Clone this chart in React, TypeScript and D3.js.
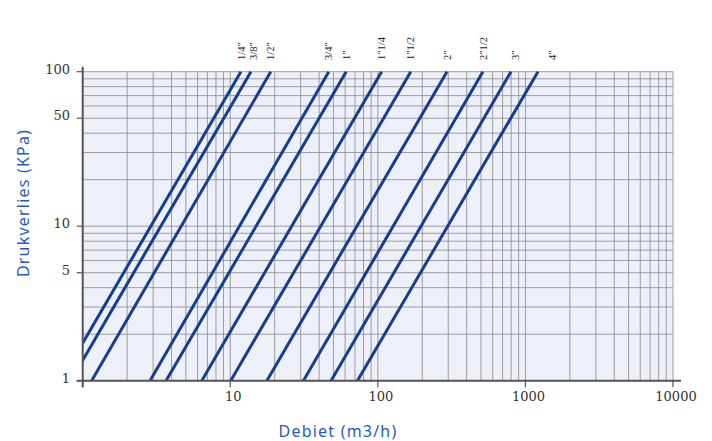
import React, { useEffect, useRef } from "react";
import * as d3 from "d3";

// pipe sizes and the flow (m3/h) each line reaches at 1 kPa and at 100 kPa
const sizes = ["1/4\"", "3/8\"", "1/2\"", "3/4\"", "1\"", "1\"1/4", "1\"1/2", "2\"", "2\"1/2", "3\"", "4\""];
const flowAt1 = [0.71, 0.83, 1.15, 2.86, 3.67, 6.41, 10.07, 17.7, 31.3, 48.2, 72.7];
const flowAt100 = [11.8, 13.8, 18.8, 46.5, 61, 106, 167, 294, 515, 798, 1216];

const xTickLabels = [10, 100, 1000, 10000];
const yTickLabels = [1, 5, 10, 50, 100];

const App = () => {
  const ref = useRef<SVGSVGElement | null>(null);

  useEffect(() => {
    const svg = d3.select(ref.current);
    svg.selectAll("*").remove();

    const left = 82.7,
      right = 673,
      top = 71.7,
      bottom = 380.7;

    const x = d3.scaleLog().domain([1, 10000]).range([left, right]);
    const y = d3.scaleLog().domain([1, 100]).range([bottom, top]);

    const gridColor = "#939393";
    const lineColor = "#143f8f";
    const axisColor = "#555";
    const titleColor = "#1f5cc0";

    // plot background
    svg
      .append("rect")
      .attr("x", left)
      .attr("y", top)
      .attr("width", right - left)
      .attr("height", bottom - top)
      .attr("fill", "#edf0f9");

    // grid
    const grid = svg.append("g").attr("stroke", gridColor).attr("stroke-width", 0.9);
    grid
      .selectAll("line.v")
      .data(x.ticks())
      .enter()
      .append("line")
      .attr("class", "v")
      .attr("x1", (d) => x(d))
      .attr("x2", (d) => x(d))
      .attr("y1", top)
      .attr("y2", bottom);
    grid
      .selectAll("line.h")
      .data(y.ticks())
      .enter()
      .append("line")
      .attr("class", "h")
      .attr("x1", left)
      .attr("x2", right)
      .attr("y1", (d) => y(d))
      .attr("y2", (d) => y(d));

    // clip for the pressure lines
    svg
      .append("clipPath")
      .attr("id", "plot-clip")
      .append("rect")
      .attr("x", left)
      .attr("y", top - 1)
      .attr("width", right - left)
      .attr("height", bottom - top + 1);

    const data = sizes.map((s, i) => ({ size: s, q1: flowAt1[i], q100: flowAt100[i] }));

    svg
      .append("g")
      .attr("clip-path", "url(#plot-clip)")
      .selectAll("line")
      .data(data)
      .enter()
      .append("line")
      .attr("x1", (d) => x(d.q1))
      .attr("y1", y(1))
      .attr("x2", (d) => x(d.q100))
      .attr("y2", y(100))
      .attr("stroke", lineColor)
      .attr("stroke-width", 3);

    // size labels above each line
    const labelShift: Record<string, number> = { "3/8\"": 2, "3\"": 4, "4\"": 14 };
    svg
      .append("g")
      .selectAll("text")
      .data(data)
      .enter()
      .append("text")
      .attr("transform", (d) => `translate(${x(d.q100) + (labelShift[d.size] || 0)},60) rotate(-90)`)
      .attr("dy", "0.35em")
      .attr("font-family", "'Liberation Serif', serif")
      .attr("font-size", 10.5)
      .attr("fill", "#222")
      .text((d) => d.size);

    // axes
    svg
      .append("line")
      .attr("x1", left)
      .attr("x2", left)
      .attr("y1", top - 5)
      .attr("y2", bottom + 6.5)
      .attr("stroke", axisColor)
      .attr("stroke-width", 2);
    svg
      .append("line")
      .attr("x1", left - 6)
      .attr("x2", right + 8)
      .attr("y1", bottom)
      .attr("y2", bottom)
      .attr("stroke", axisColor)
      .attr("stroke-width", 2);

    // y ticks
    const yt = svg.append("g");
    yt.selectAll("line")
      .data(yTickLabels)
      .enter()
      .append("line")
      .attr("x1", left - 6)
      .attr("x2", left)
      .attr("y1", (d) => y(d))
      .attr("y2", (d) => y(d))
      .attr("stroke", axisColor)
      .attr("stroke-width", 1.2);
    yt.selectAll("text")
      .data(yTickLabels)
      .enter()
      .append("text")
      .attr("x", 70)
      .attr("y", (d) => y(d) + 2)
      .attr("text-anchor", "end")
      .attr("font-family", "'DejaVu Serif', serif")
      .attr("font-size", 13)
      .attr("fill", "#333")
      .text((d) => d);

    // x ticks
    const xt = svg.append("g");
    xt.selectAll("line")
      .data([1, ...xTickLabels])
      .enter()
      .append("line")
      .attr("x1", (d) => x(d))
      .attr("x2", (d) => x(d))
      .attr("y1", bottom)
      .attr("y2", bottom + 6.5)
      .attr("stroke", axisColor)
      .attr("stroke-width", 1.2);
    xt.selectAll("text")
      .data(xTickLabels)
      .enter()
      .append("text")
      .attr("x", (d) => x(d) + 3)
      .attr("y", 401)
      .attr("text-anchor", "middle")
      .attr("font-family", "'DejaVu Serif', serif")
      .attr("font-size", 13)
      .attr("fill", "#333")
      .text((d) => d);

    // titles
    svg
      .append("text")
      .attr("transform", "translate(29,203) rotate(-90)")
      .attr("text-anchor", "middle")
      .attr("font-family", "'Noto Sans', sans-serif")
      .attr("font-size", 16)
      .attr("letter-spacing", 1.2)
      .attr("fill", titleColor)
      .text("Drukverlies (KPa)");
    svg
      .append("text")
      .attr("x", 338)
      .attr("y", 437)
      .attr("text-anchor", "middle")
      .attr("font-family", "'Noto Sans', sans-serif")
      .attr("font-size", 16)
      .attr("letter-spacing", 1.2)
      .attr("fill", titleColor)
      .text("Debiet (m3/h)");
  }, []);

  return (
    <svg
      ref={ref}
      width={712}
      height={441}
      style={{ position: "absolute", left: 0, top: 0, background: "#fff" }}
    />
  );
};

export default App;
